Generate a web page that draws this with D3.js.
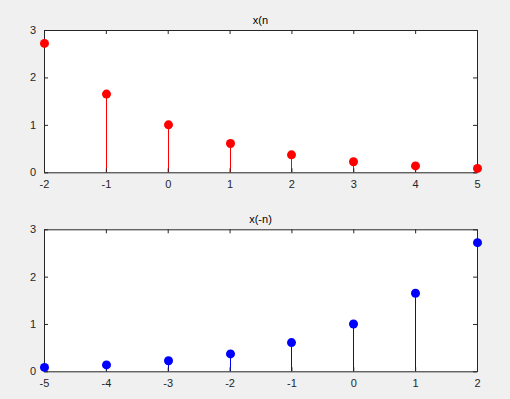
<!DOCTYPE html>
<html lang="en">
<head>
<meta charset="UTF-8">
<title>x(n) and x(-n)</title>
<style>
    body { margin: 0; padding: 0; background-color: #f0f0f0; }
    svg { display: block; font-family: "Liberation Sans", Arial, sans-serif; }
</style>
</head>
<body>
<svg width="510" height="399"></svg>
<script src="https://d3js.org/d3.v7.min.js"></script>
<script>
    // data
    let nTop = [-2, -1, 0, 1, 2, 3, 4, 5];
    let xTop = [2.718, 1.649, 1.0, 0.607, 0.368, 0.223, 0.135, 0.082];
    let nBottom = [-5, -4, -3, -2, -1, 0, 1, 2];
    let xBottom = [0.082, 0.135, 0.223, 0.368, 0.607, 1.0, 1.649, 2.718];
    let yTicks = [0, 1, 2, 3];

    let svg = d3.select("svg");
    let left = 44, right = 477;

    function stemPlot(top, bottom, ns, vals, color, title) {
        let x = d3.scaleLinear().domain(d3.extent(ns)).range([left, right]);
        let y = d3.scaleLinear().domain([0, 3]).range([bottom, top]);
        let g = svg.append("g");
        let fmt = d => String(d); // plain hyphen minus, like MATLAB

        g.append("rect")
            .attr("x", left).attr("y", top)
            .attr("width", right - left).attr("height", bottom - top)
            .attr("fill", "white");

        let pts = ns.map((n, i) => ({ n: n, v: vals[i] }));

        g.selectAll(".stem").data(pts).enter().append("line")
            .attr("x1", d => Math.round(x(d.n)) + 0.5).attr("x2", d => Math.round(x(d.n)) + 0.5)
            .attr("y1", y(0)).attr("y2", d => y(d.v))
            .attr("stroke", color).attr("stroke-width", 1);

        // axes with inward ticks, MATLAB box style
        let axX = g.append("g").attr("transform", `translate(0,${bottom})`)
            .call(d3.axisBottom(x).tickValues(ns).tickSizeInner(-4).tickSizeOuter(0).tickPadding(8).tickFormat(fmt));
        let axXt = g.append("g").attr("transform", `translate(0,${top})`)
            .call(d3.axisTop(x).tickValues(ns).tickSizeInner(-4).tickSizeOuter(0).tickFormat(""));
        let axY = g.append("g").attr("transform", `translate(${left},0)`)
            .call(d3.axisLeft(y).tickValues(yTicks).tickSizeInner(-4).tickSizeOuter(0).tickPadding(8).tickFormat(fmt));
        let axYr = g.append("g").attr("transform", `translate(${right},0)`)
            .call(d3.axisRight(y).tickValues(yTicks).tickSizeInner(-4).tickSizeOuter(0).tickFormat(""));

        [axX, axXt, axY, axYr].forEach(a => {
            a.select(".domain").attr("stroke", "#262626");
            a.selectAll(".tick line").attr("stroke", "#262626");
            a.selectAll("text").attr("fill", "#262626").style("font-size", "11px");
        });

        g.selectAll(".dot").data(pts).enter().append("circle")
            .attr("cx", d => Math.round(x(d.n)) + 0.5).attr("cy", d => y(d.v))
            .attr("r", 4.5).attr("fill", color);

        g.append("text")
            .attr("x", (left + right) / 2).attr("y", top - 6)
            .attr("text-anchor", "middle")
            .attr("fill", "black")
            .style("font-size", "11px")
            .text(title);
    }

    stemPlot(30, 172.3, nTop, xTop, "red", "x(n");
    stemPlot(229.3, 371.3, nBottom, xBottom, "blue", "x(-n)");
</script>
</body>
</html>
